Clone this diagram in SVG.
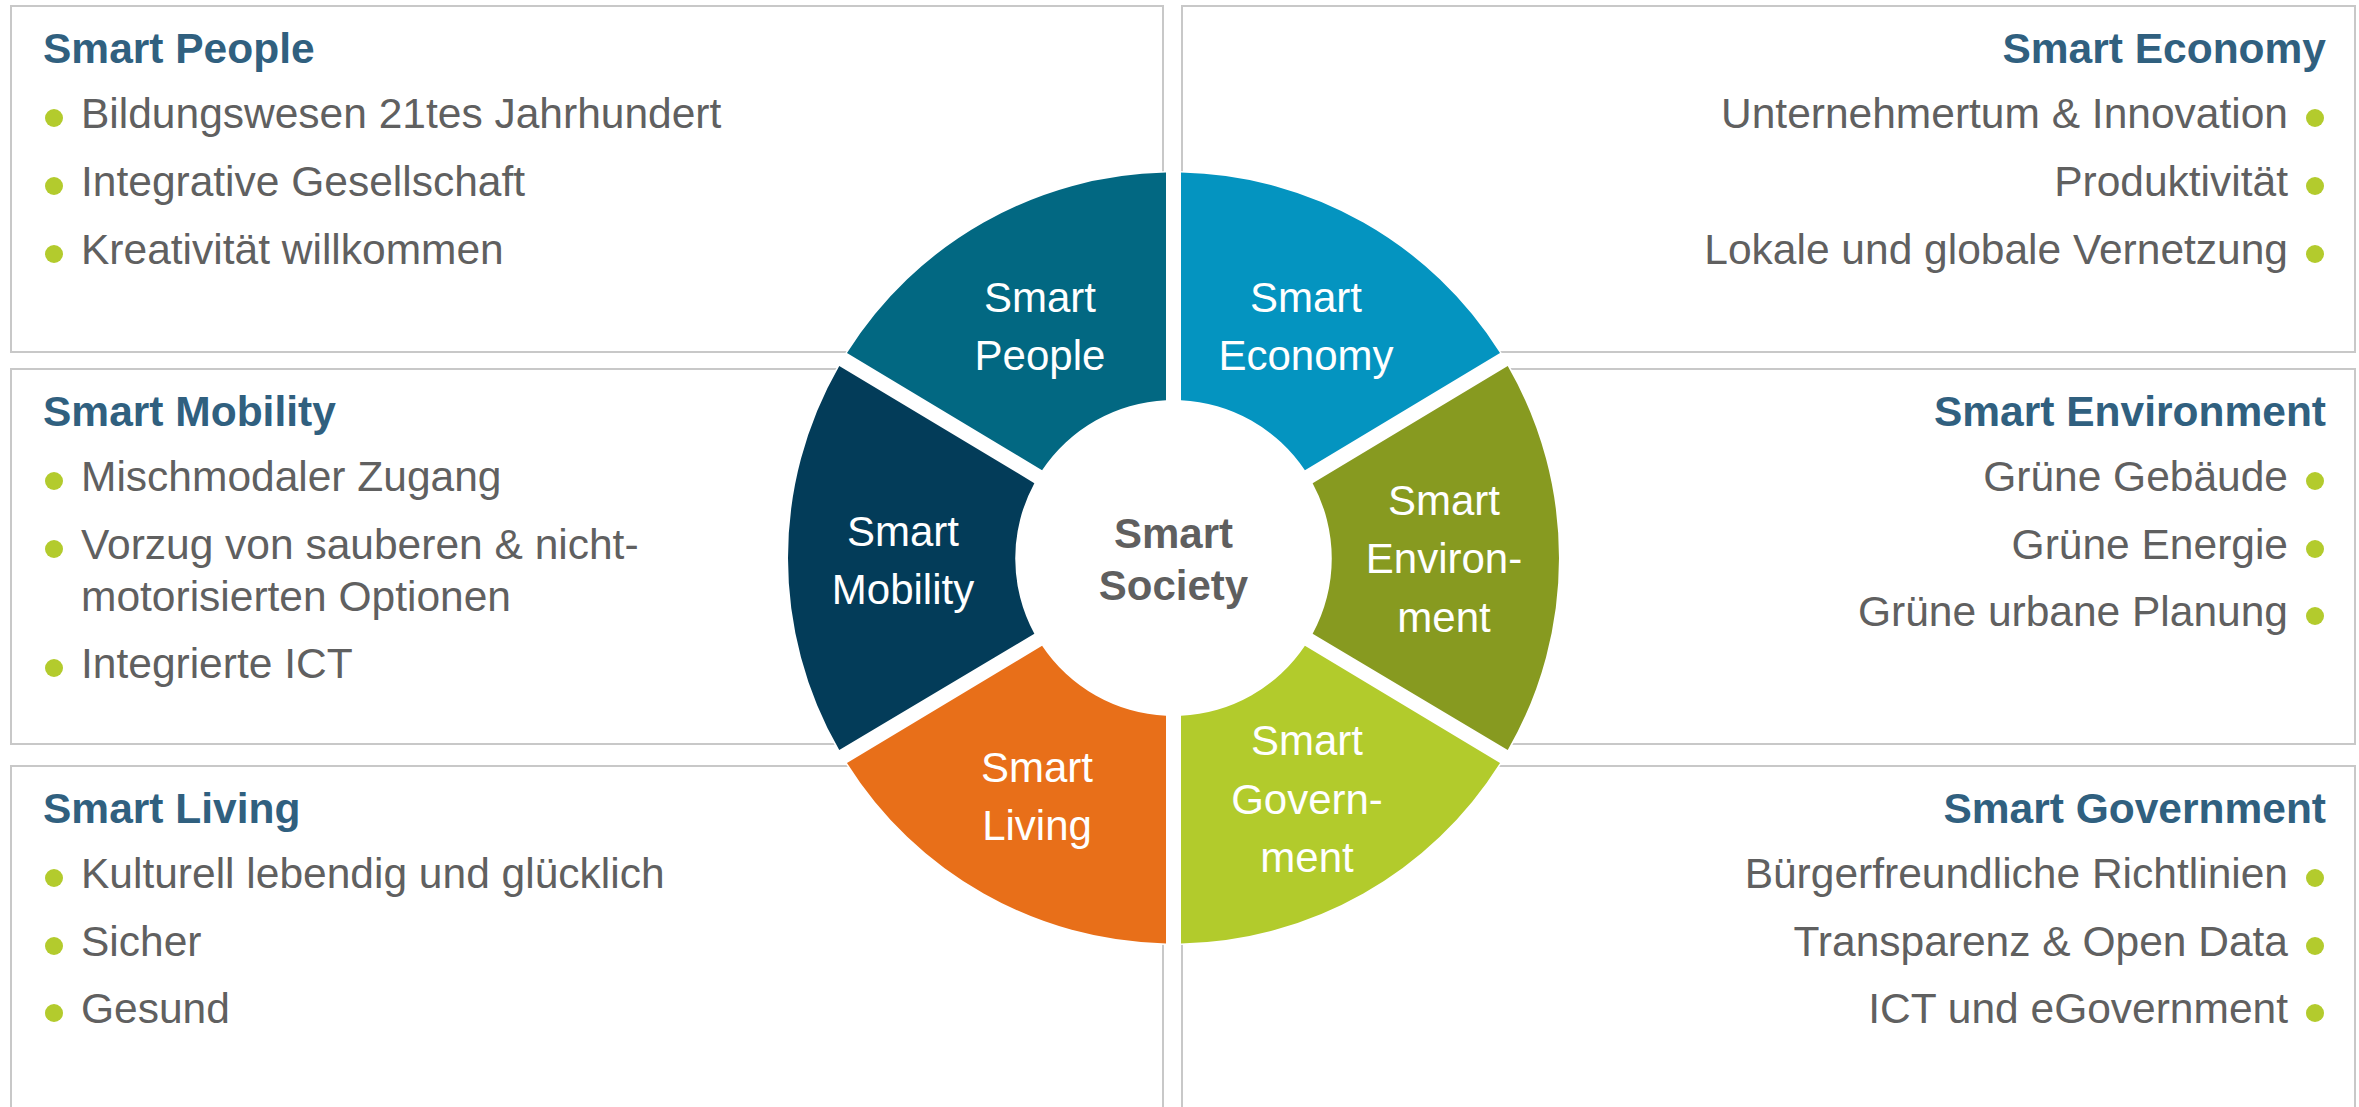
<svg xmlns="http://www.w3.org/2000/svg" width="2359" height="1107" viewBox="0 0 2359 1107">
  <style>
    .box { fill: #ffffff; stroke: #c8c8c8; stroke-width: 2; }
    .title { font-family: "Liberation Sans", Arial, sans-serif; font-weight: bold; font-size: 42.5px; fill: #30607f; }
    .item { font-family: "Liberation Sans", Arial, sans-serif; font-size: 42.5px; fill: #606060; }
    .dot { fill: #b3cb2d; }
    .seg-label { font-family: "Liberation Sans", Arial, sans-serif; font-size: 42px; fill: #ffffff; text-anchor: middle; }
    .hub-label { font-family: "Liberation Sans", Arial, sans-serif; font-weight: bold; font-size: 42px; fill: #5f5f5f; text-anchor: middle; }
    .end { text-anchor: end; }
  </style>

  <rect width="2359" height="1107" fill="#ffffff"/>

  <!-- text panels -->
  <g id="panel-people">
    <rect class="box" x="11" y="6" width="1152" height="346"/>
    <text class="title" x="43" y="63">Smart People</text>
    <circle class="dot" cx="54" cy="118" r="9"/>
    <text class="item" x="81" y="128">Bildungswesen 21tes Jahrhundert</text>
    <circle class="dot" cx="54" cy="186" r="9"/>
    <text class="item" x="81" y="196">Integrative Gesellschaft</text>
    <circle class="dot" cx="54" cy="254" r="9"/>
    <text class="item" x="81" y="264">Kreativität willkommen</text>
  </g>

  <g id="panel-economy">
    <rect class="box" x="1182" y="6" width="1173" height="346"/>
    <text class="title end" x="2326" y="63">Smart Economy</text>
    <text class="item end" x="2288" y="128">Unternehmertum &amp; Innovation</text>
    <circle class="dot" cx="2315" cy="118" r="9"/>
    <text class="item end" x="2288" y="196">Produktivität</text>
    <circle class="dot" cx="2315" cy="186" r="9"/>
    <text class="item end" x="2288" y="264">Lokale und globale Vernetzung</text>
    <circle class="dot" cx="2315" cy="254" r="9"/>
  </g>

  <g id="panel-mobility">
    <rect class="box" x="11" y="369" width="1152" height="375"/>
    <text class="title" x="43" y="426">Smart Mobility</text>
    <circle class="dot" cx="54" cy="481" r="9"/>
    <text class="item" x="81" y="491">Mischmodaler Zugang</text>
    <circle class="dot" cx="54" cy="549" r="9"/>
    <text class="item" x="81" y="559">Vorzug von sauberen &amp; nicht-</text>
    <text class="item" x="81" y="611">motorisierten Optionen</text>
    <circle class="dot" cx="54" cy="668" r="9"/>
    <text class="item" x="81" y="678">Integrierte ICT</text>
  </g>

  <g id="panel-environment">
    <rect class="box" x="1182" y="369" width="1173" height="375"/>
    <text class="title end" x="2326" y="426">Smart Environment</text>
    <text class="item end" x="2288" y="491">Grüne Gebäude</text>
    <circle class="dot" cx="2315" cy="481" r="9"/>
    <text class="item end" x="2288" y="559">Grüne Energie</text>
    <circle class="dot" cx="2315" cy="549" r="9"/>
    <text class="item end" x="2288" y="626">Grüne urbane Planung</text>
    <circle class="dot" cx="2315" cy="616" r="9"/>
  </g>

  <g id="panel-living">
    <rect class="box" x="11" y="766" width="1152" height="360"/>
    <text class="title" x="43" y="823">Smart Living</text>
    <circle class="dot" cx="54" cy="878" r="9"/>
    <text class="item" x="81" y="888">Kulturell lebendig und glücklich</text>
    <circle class="dot" cx="54" cy="946" r="9"/>
    <text class="item" x="81" y="956">Sicher</text>
    <circle class="dot" cx="54" cy="1013" r="9"/>
    <text class="item" x="81" y="1023">Gesund</text>
  </g>

  <g id="panel-government">
    <rect class="box" x="1182" y="766" width="1173" height="360"/>
    <text class="title end" x="2326" y="823">Smart Government</text>
    <text class="item end" x="2288" y="888">Bürgerfreundliche Richtlinien</text>
    <circle class="dot" cx="2315" cy="878" r="9"/>
    <text class="item end" x="2288" y="956">Transparenz &amp; Open Data</text>
    <circle class="dot" cx="2315" cy="946" r="9"/>
    <text class="item end" x="2288" y="1023">ICT und eGovernment</text>
    <circle class="dot" cx="2315" cy="1013" r="9"/>
  </g>

  <!-- white backing disk so panel borders stop at the wheel -->
  <g id="connectors">
    <circle cx="1173.5" cy="558" r="387" fill="#ffffff"/>
  </g>

  <!-- wheel segments -->
  <g id="seg-economy">
    <path d="M 1500.02 353.06 A 385.5 385.5 0 0 0 1181 172.57 L 1181 400.18 A 158 158 0 0 1 1304.92 470.29 Z" fill="#0494c0"/>
    <text class="seg-label" x="1306" y="312">Smart</text>
    <text class="seg-label" x="1306" y="370">Economy</text>
  </g>
  <g id="seg-people">
    <path d="M 1166 172.57 A 385.5 385.5 0 0 0 846.98 353.06 L 1042.08 470.29 A 158 158 0 0 1 1166 400.18 Z" fill="#026882"/>
    <text class="seg-label" x="1040" y="312">Smart</text>
    <text class="seg-label" x="1040" y="370">People</text>
  </g>
  <g id="seg-mobility">
    <path d="M 839.26 365.92 A 385.5 385.5 0 0 0 839.26 750.08 L 1034.36 633.85 A 158 158 0 0 1 1034.36 483.15 Z" fill="#033c59"/>
    <text class="seg-label" x="903" y="546">Smart</text>
    <text class="seg-label" x="903" y="604">Mobility</text>
  </g>
  <g id="seg-living">
    <path d="M 846.98 762.94 A 385.5 385.5 0 0 0 1166 943.43 L 1166 715.82 A 158 158 0 0 1 1042.08 645.71 Z" fill="#e86f19"/>
    <text class="seg-label" x="1037" y="782">Smart</text>
    <text class="seg-label" x="1037" y="840">Living</text>
  </g>
  <g id="seg-government">
    <path d="M 1181 943.43 A 385.5 385.5 0 0 0 1500.02 762.94 L 1304.92 645.71 A 158 158 0 0 1 1181 715.82 Z" fill="#b2cb2c"/>
    <text class="seg-label" x="1307" y="755">Smart</text>
    <text class="seg-label" x="1307" y="814">Govern-</text>
    <text class="seg-label" x="1307" y="872">ment</text>
  </g>
  <g id="seg-environment">
    <path d="M 1507.74 750.08 A 385.5 385.5 0 0 0 1507.74 365.92 L 1312.64 483.15 A 158 158 0 0 1 1312.64 633.85 Z" fill="#879a20"/>
    <text class="seg-label" x="1444" y="515">Smart</text>
    <text class="seg-label" x="1444" y="573">Environ-</text>
    <text class="seg-label" x="1444" y="632">ment</text>
  </g>

  <!-- hub -->
  <g id="hub">
    <text class="hub-label" x="1173.5" y="548">Smart</text>
    <text class="hub-label" x="1173.5" y="600">Society</text>
  </g>
</svg>
